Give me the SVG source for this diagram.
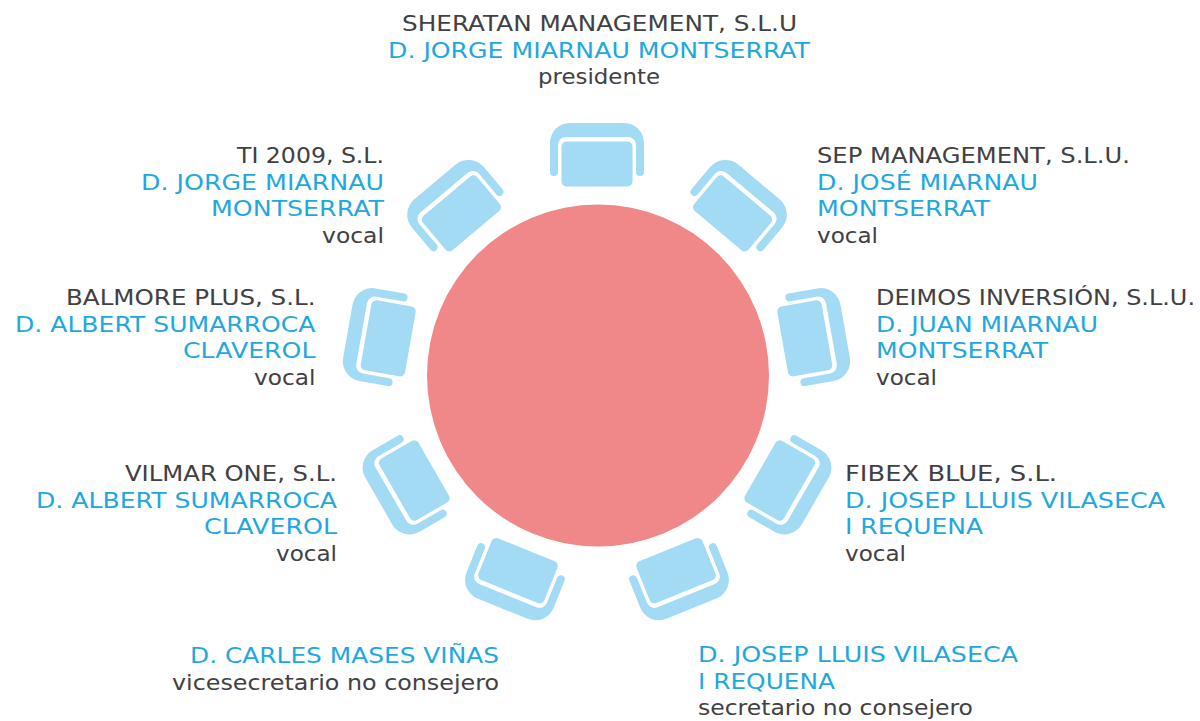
<svg xmlns="http://www.w3.org/2000/svg" width="1200" height="721" viewBox="0 0 1200 721">
<style>
text{font-family:"DejaVu Sans","Liberation Sans",sans-serif;font-size:22px}
.g{fill:#414042}
.b{fill:#1fa8e0}
.chair{fill:#a3daf4}
</style>
<defs>
<g id="chairShape">
<rect x="-35.5" y="-22.5" width="71" height="45" rx="5" ry="5"/>
<path d="M -47 8 V -21 A 20 20 0 0 1 -27 -41 H 27 A 20 20 0 0 1 47 -21 V 8 A 4 4 0 0 1 39 8 V -19 A 8 8 0 0 0 31 -27 H -31 A 8 8 0 0 0 -39 -19 V 8 A 4 4 0 0 1 -47 8 Z"/>
</g>
</defs>
<rect width="1200" height="721" fill="#ffffff"/>
<g id="table"><circle cx="598" cy="375.5" r="171" fill="#f08789"/></g>
<g id="chairs" class="chair">
<g id="chair-top"><use href="#chairShape" transform="rotate(0 597 375) translate(597 164)"/></g>
<g id="chair-sep"><use href="#chairShape" transform="rotate(40 597 375) translate(597 164)"/></g>
<g id="chair-deimos"><use href="#chairShape" transform="rotate(80 597 375) translate(597 164)"/></g>
<g id="chair-fibex"><use href="#chairShape" transform="rotate(120 597 375) translate(597 164)"/></g>
<g id="chair-secretario"><use href="#chairShape" transform="rotate(158 597 375) translate(597 164)"/></g>
<g id="chair-vicesecretario"><use href="#chairShape" transform="rotate(202 597 375) translate(597 164)"/></g>
<g id="chair-vilmar"><use href="#chairShape" transform="rotate(240 597 375) translate(597 164)"/></g>
<g id="chair-balmore"><use href="#chairShape" transform="rotate(280 596 375) translate(596 164)"/></g>
<g id="chair-ti"><use href="#chairShape" transform="rotate(320 597 375) translate(597 164)"/></g>
</g>
<g id="label-sheratan">
<text class="g" x="402" y="31" textLength="395" lengthAdjust="spacingAndGlyphs">SHERATAN MANAGEMENT, S.L.U</text>
<text class="b" x="388" y="57.5" textLength="422" lengthAdjust="spacingAndGlyphs">D. JORGE MIARNAU MONTSERRAT</text>
<text class="g" x="538" y="84" textLength="122" lengthAdjust="spacingAndGlyphs">presidente</text>
</g>
<g id="label-ti">
<text class="g" x="237" y="163" textLength="147" lengthAdjust="spacingAndGlyphs">TI 2009, S.L.</text>
<text class="b" x="141" y="189.5" textLength="243" lengthAdjust="spacingAndGlyphs">D. JORGE MIARNAU</text>
<text class="b" x="211" y="216" textLength="173" lengthAdjust="spacingAndGlyphs">MONTSERRAT</text>
<text class="g" x="322" y="242.5" textLength="62" lengthAdjust="spacingAndGlyphs">vocal</text>
</g>
<g id="label-balmore">
<text class="g" x="66" y="305" textLength="249.5" lengthAdjust="spacingAndGlyphs">BALMORE PLUS, S.L.</text>
<text class="b" x="15" y="331.5" textLength="300.5" lengthAdjust="spacingAndGlyphs">D. ALBERT SUMARROCA</text>
<text class="b" x="183" y="358" textLength="132.5" lengthAdjust="spacingAndGlyphs">CLAVEROL</text>
<text class="g" x="254" y="384.5" textLength="61.5" lengthAdjust="spacingAndGlyphs">vocal</text>
</g>
<g id="label-vilmar">
<text class="g" x="125" y="481" textLength="212" lengthAdjust="spacingAndGlyphs">VILMAR ONE, S.L.</text>
<text class="b" x="36" y="507.5" textLength="301" lengthAdjust="spacingAndGlyphs">D. ALBERT SUMARROCA</text>
<text class="b" x="204" y="534" textLength="133" lengthAdjust="spacingAndGlyphs">CLAVEROL</text>
<text class="g" x="276" y="560.5" textLength="61" lengthAdjust="spacingAndGlyphs">vocal</text>
</g>
<g id="label-vicesecretario">
<text class="b" x="190" y="663" textLength="309" lengthAdjust="spacingAndGlyphs">D. CARLES MASES VIÑAS</text>
<text class="g" x="172" y="689.5" textLength="327" lengthAdjust="spacingAndGlyphs">vicesecretario no consejero</text>
</g>
<g id="label-sep">
<text class="g" x="817" y="163" textLength="313" lengthAdjust="spacingAndGlyphs">SEP MANAGEMENT, S.L.U.</text>
<text class="b" x="817" y="189.5" textLength="221" lengthAdjust="spacingAndGlyphs">D. JOSÉ MIARNAU</text>
<text class="b" x="817" y="216" textLength="173" lengthAdjust="spacingAndGlyphs">MONTSERRAT</text>
<text class="g" x="817" y="242.5" textLength="61" lengthAdjust="spacingAndGlyphs">vocal</text>
</g>
<g id="label-deimos">
<text class="g" x="876" y="305" textLength="319" lengthAdjust="spacingAndGlyphs">DEIMOS INVERSIÓN, S.L.U.</text>
<text class="b" x="876" y="331.5" textLength="222" lengthAdjust="spacingAndGlyphs">D. JUAN MIARNAU</text>
<text class="b" x="876" y="358" textLength="172" lengthAdjust="spacingAndGlyphs">MONTSERRAT</text>
<text class="g" x="876" y="384.5" textLength="61" lengthAdjust="spacingAndGlyphs">vocal</text>
</g>
<g id="label-fibex">
<text class="g" x="845" y="481" textLength="212" lengthAdjust="spacingAndGlyphs">FIBEX BLUE, S.L.</text>
<text class="b" x="845" y="507.5" textLength="320" lengthAdjust="spacingAndGlyphs">D. JOSEP LLUIS VILASECA</text>
<text class="b" x="845" y="534" textLength="138" lengthAdjust="spacingAndGlyphs">I REQUENA</text>
<text class="g" x="845" y="560.5" textLength="61" lengthAdjust="spacingAndGlyphs">vocal</text>
</g>
<g id="label-secretario">
<text class="b" x="698" y="662" textLength="320" lengthAdjust="spacingAndGlyphs">D. JOSEP LLUIS VILASECA</text>
<text class="b" x="698" y="688.5" textLength="137" lengthAdjust="spacingAndGlyphs">I REQUENA</text>
<text class="g" x="698" y="715" textLength="275" lengthAdjust="spacingAndGlyphs">secretario no consejero</text>
</g>
</svg>
